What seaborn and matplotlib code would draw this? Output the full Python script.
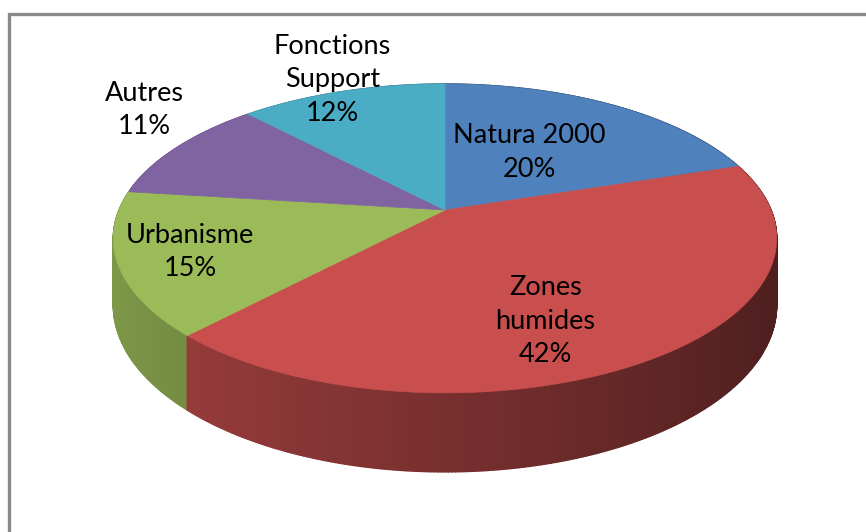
import numpy as np
import matplotlib
matplotlib.use("Agg")
import matplotlib.pyplot as plt
from matplotlib.collections import PolyCollection
from matplotlib.patches import Polygon
import seaborn as sns

# data (clockwise from 12 o'clock)
categories = ["Natura 2000", "Zones\nhumides", "Urbanisme", "Autres", "Fonctions\nSupport"]
shares = [20, 42, 15, 11, 12]
colors = ["#4F81BD", "#C84F4E", "#9BBB59", "#8064A2", "#4BACC6"]

# label placement: radius (fraction of pie radius) and angle shift from the slice middle
label_radius = [0.50, 0.71, 0.79, 1.30, 1.12]
label_shift = [-2, 10, 0, 9, 0]

sns.set_theme(style="white")
plt.rcParams['font.family'] = ['Lato', 'DejaVu Sans']

W, H = 866, 532
fig = plt.figure(figsize=(W / 100, H / 100), dpi=100)
ax = fig.add_axes([0, 0, 1, 1])
ax.set_xlim(0, W)
ax.set_ylim(H, 0)
ax.axis("off")

# perspective ellipse of the pie (pixel units)
cx, cy = 445, 210      # apex of the slices
b, a = 326, 149.2      # horizontal / vertical radius
k = 0.184              # perspective strength
depth = 64.5           # thickness of the pie


def proj(r, theta, drop=0.0):
    t = np.radians(theta)
    u = r * np.sin(t)
    v = -r * np.cos(t)
    d = 1 - k * v
    return cx + b * u / d, cy + (a * v + drop) / d


sns_colors = sns.color_palette(colors)
ends = np.cumsum(shares) / np.sum(shares) * 360
starts = np.concatenate([[0], ends[:-1]])

# side of the cylinder, far pieces first
quads, qcols, qdepth = [], [], []
for i, (t1, t2) in enumerate(zip(starts, ends)):
    steps = np.linspace(t1, t2, max(int((t2 - t1) * 2), 2))
    for s1, s2 in zip(steps[:-1], steps[1:]):
        x1, y1 = proj(1, s1)
        x2, y2 = proj(1, s2)
        x3, y3 = proj(1, s2, depth)
        x4, y4 = proj(1, s1, depth)
        mid = np.radians((s1 + s2) / 2)
        u = np.sin(mid)
        shade = np.clip(0.60 - 0.22 * u, 0.3, 0.9)
        c = np.array(sns_colors[i]) * shade
        quads.append([(x1, y1), (x2, y2), (x3, y3), (x4, y4)])
        qcols.append(c)
        qdepth.append(-np.cos(mid))
order = np.argsort(qdepth)
side = PolyCollection([quads[j] for j in order],
                      facecolors=[qcols[j] for j in order],
                      edgecolors=[qcols[j] for j in order], linewidths=1.0)
ax.add_collection(side)

# top faces
for i, (t1, t2) in enumerate(zip(starts, ends)):
    th = np.linspace(t1, t2, 200)
    xs, ys = proj(1, th)
    pts = np.column_stack([np.r_[cx, xs], np.r_[cy, ys]])
    ax.add_patch(Polygon(pts, closed=True, facecolor=sns_colors[i],
                         edgecolor=sns_colors[i], linewidth=0.5))

# data labels
for i, (t1, t2) in enumerate(zip(starts, ends)):
    mid = (t1 + t2) / 2 + label_shift[i]
    lx, ly = proj(label_radius[i], mid)
    ax.text(lx, ly, f"{categories[i]}\n{shares[i]}%", ha="center", va="center",
            fontsize=19.5, color="black", linespacing=1.42)

# chart area border
ax.plot([9, 9, W + 5], [H + 5, 14, 14], color="#8a8a8a", lw=2.4,
        solid_joinstyle="miter", clip_on=False)

fig.savefig("out.png", dpi=100)
